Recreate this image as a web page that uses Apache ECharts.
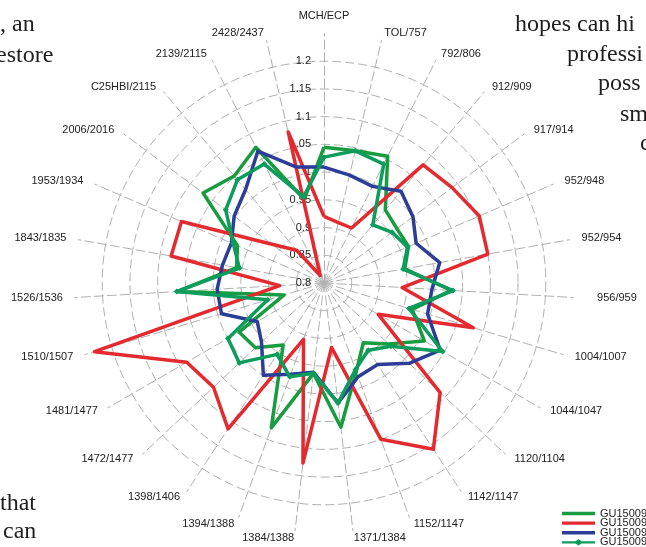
<!DOCTYPE html>
<html>
<head>
<meta charset="utf-8">
<script src="https://cdn.jsdelivr.net/npm/echarts@6/dist/echarts.min.js"></script>
<style>
html,body{margin:0;padding:0;background:#fff;}
#chart{width:646px;height:547px;}
</style>
</head>
<body>
<div id="chart"></div>
<script>
// Categories clockwise from top
const categories = ['MCH/ECP','TOL/757','792/806','912/909','917/914','952/948','952/954','956/959','1004/1007','1044/1047','1120/1104','1142/1147','1152/1147','1371/1384','1384/1388','1394/1388','1398/1406','1472/1477','1481/1477','1510/1507','1526/1536','1843/1835','1953/1934','2006/2016','C25HBI/2115','2139/2115','2428/2437'];
const seriesNames = ['GU150091','GU150092','GU150093','GU150094'];
const valueTicks = ['0.8','0.85','0.9','0.95','1','1.05','1.1','1.15','1.2'];

const gu1 = [1.045,1.045,1.056,0.972,0.964,0.966,0.948,1.030,0.966,1.009,0.960,0.929,0.970,1.062,0.964,1.078,0.934,0.970,0.977,0.875,1.066,0.960,0.970,1.072,1.052,1.074,0.955];
const gu2 = [0.920,0.912,0.911,1.078,1.088,1.105,1.100,0.941,1.081,0.913,1.088,1.159,1.100,0.917,1.127,0.908,1.115,1.074,1.086,1.232,0.880,1.080,1.080,0.917,0.877,0.815,1.080];
const gu3 = [1.009,1.000,0.995,1.016,1.000,0.981,1.012,0.995,0.995,1.042,1.011,0.976,0.980,1.018,0.962,0.975,0.999,0.955,0.939,0.993,0.993,0.986,0.982,1.002,1.020,1.066,1.015];
const gu4 = [1.027,1.045,1.040,0.937,0.953,0.964,0.945,1.033,0.960,1.047,0.966,0.945,0.966,1.018,0.964,0.980,0.954,1.010,1.000,0.906,1.066,0.955,0.978,1.021,1.043,1.040,0.960];

const colors = ['#179c3f','#e4292f','#2b3d96','#0c9c5c'];
const axisMin = 0.8, axisMax = 1.25, step = 0.05;

// ECharts radar runs counter-clockwise: reorder so the picture runs clockwise
const order = [0].concat(categories.map((_, i) => i).slice(1).reverse());
const pick = arr => order.map(i => arr[i]);

const font = '"Liberation Sans", Arial, sans-serif';
const serif = '"Liberation Serif", "DejaVu Serif", serif';

const indicator = order.map((i, k) => {
  const o = { name: categories[i], min: axisMin, max: axisMax };
  if (k === 0) {
    o.axisLabel = {
      show: true, fontSize: 11, color: '#222', fontFamily: font, margin: 13,
      formatter: v => { const idx = Math.round((v - axisMin) / step); return idx < valueTicks.length ? valueTicks[idx] : ''; }
    };
  }
  return o;
});

// Per-label rich styles: a little extra horizontal gap for side labels
const nameRich = {
  g: { fontSize: 11, lineHeight: 21 }
};
categories.forEach((c, i) => {
  const s = Math.sin(i * 2 * Math.PI / categories.length);
  let pad = [0, 0, 0, 0];
  if (s > 0.2) pad = [0, 0, 0, Math.round(5 * s) + (c === '956/959' ? 12 : 0)];
  else if (s < -0.2) pad = [0, Math.round(5 * -s), 0, 0];
  nameRich['k' + i] = { color: '#222', fontSize: 11, fontFamily: font, lineHeight: 13, padding: pad };
});

const ringColors = [];
for (let i = 0; i < 10; i++) ringColors.push(i === 9 ? 'rgba(0,0,0,0)' : '#b0b0b0');

const lineIcon = 'path://M0,0L0.05,0L0,0.05ZM0,1.8L33,1.8L33,5.2L0,5.2ZM33,7L32.95,7L33,6.95Z';
const diamondIcon = 'path://M0,0L0.05,0L0,0.05ZM0,2.4L13.5,2.4L16.5,0.3L19.5,2.4L33,2.4L33,4.6L19.5,4.6L16.5,6.7L13.5,4.6L0,4.6ZM33,7L32.95,7L33,6.95Z';

const allData = [gu1, gu2, gu3, gu4];
const series = allData.map((arr, s) => ({
  type: 'radar',
  name: seriesNames[s],
  symbol: s === 3 ? 'diamond' : 'none',
  symbolSize: 6,
  silent: true,
  color: colors[s],
  itemStyle: { color: colors[s] },
  lineStyle: { color: colors[s], width: 3.5 },
  emphasis: { disabled: true },
  data: [{ name: seriesNames[s], value: pick(arr) }]
}));

const bgText = (text, x, y) => ({
  type: 'text', x: x, y: y, silent: true, z: 100,
  style: { text: text, font: '24px ' + serif, fill: '#1e1e1e', verticalAlign: 'middle', align: 'left' }
});

const chart = echarts.init(document.getElementById('chart'), null, { renderer: 'canvas' });
chart.setOption({
  animation: false,
  backgroundColor: '#fff',
  textStyle: { fontFamily: font },
  legend: {
    orient: 'vertical', left: 557, top: 503, height: 80,
    itemWidth: 33, itemHeight: 7, itemGap: -1.4,
    selectedMode: false,
    textStyle: { fontSize: 11, color: '#222', fontFamily: font },
    data: seriesNames.map((n, s) => ({ name: n, icon: s === 3 ? diamondIcon : lineIcon }))
  },
  radar: {
    center: [324, 283],
    radius: 249.5,
    startAngle: 90,
    shape: 'circle',
    splitNumber: 9,
    axisNameGap: 7,
    axisName: {
      color: '#222', fontSize: 11, fontFamily: font, verticalAlign: 'middle',
      formatter: name => {
        const i = categories.indexOf(name);
        return i === 0 ? '{k0|' + name + '}\n{g| }' : '{k' + i + '|' + name + '}';
      },
      rich: nameRich
    },
    axisLine: { lineStyle: { color: '#b0b0b0', width: 1, type: [9, 4] } },
    splitLine: { lineStyle: { color: ringColors, width: 1, type: [9, 4] } },
    splitArea: { show: false },
    axisTick: { show: false },
    axisLabel: { show: false },
    indicator: indicator
  },
  graphic: [
    bgText(', an', 0, 25),
    bgText('estore', -4, 56),
    bgText('hopes can hi', 515, 25),
    bgText('professi', 567, 55),
    bgText('poss', 598, 84),
    bgText('sm', 620, 115),
    bgText('c', 640, 144),
    bgText('that', 0, 504),
    bgText('can', 3, 532)
  ],
  series: series
});
</script>
</body>
</html>
